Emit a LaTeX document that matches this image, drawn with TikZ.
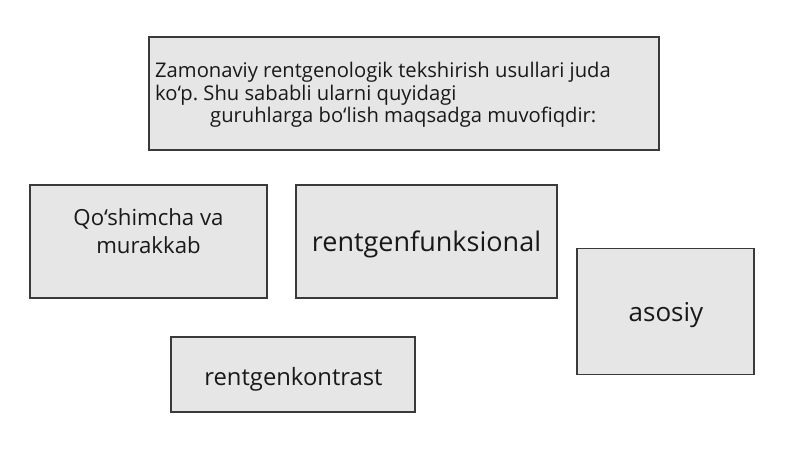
\documentclass[tikz,border=0pt]{standalone}
\usepackage{fontspec}
\setmainfont{Open Sans}
\frenchspacing
\definecolor{boxfill}{HTML}{E6E6E6}
\definecolor{boxline}{HTML}{3A3A3A}
\begin{document}
\begin{tikzpicture}[x=1pt,y=-1pt,
  box/.style={draw=boxline, fill=boxfill, line width=1.2pt, inner sep=0pt, rectangle, align=center, text=black!90},
  lbl/.style={inner sep=0pt, text=black!90}]
\useasboundingbox (0,0) rectangle (800,449);
\fill[white] (0,0) rectangle (800,449);
% top box
\node[box, minimum width=510pt, minimum height=113pt] (top) at (404,93.5) {};
\node[lbl, anchor=west, align=left, font=\fontsize{20.2}{22.5}\selectfont] (toptext) at (155,95)
  {Zamonaviy rentgenologik tekshirish usullari juda\\ko‘p. Shu sababli ularni quyidagi\\\hspace*{55pt}guruhlarga bo‘lish maqsadga muvofiqdir:};
% groups
\node[box, minimum width=237pt, minimum height=113pt] (qosh) at (148.5,241.5) {};
\node[lbl, align=center, font=\fontsize{22.2}{28}\selectfont] (qoshtext) at (148.5,231) {Qo‘shimcha va\\murakkab};
\node[box, minimum width=261pt, minimum height=113pt] (funk) at (426.5,241.5) {};
\node[lbl, font=\fontsize{27}{32}\selectfont] (funktext) at (426.5,244) {rentgenfunksional};
\node[box, minimum width=177pt, minimum height=126pt] (asos) at (665.5,311.5) {};
\node[lbl, font=\fontsize{26}{31}\selectfont] (asostext) at (666,315) {asosiy};
\node[box, minimum width=244pt, minimum height=75pt] (kont) at (293,374.5) {};
\node[lbl, font=\fontsize{23.8}{28}\selectfont] (konttext) at (293.5,379) {rentgenkontrast};
\end{tikzpicture}
\end{document}
